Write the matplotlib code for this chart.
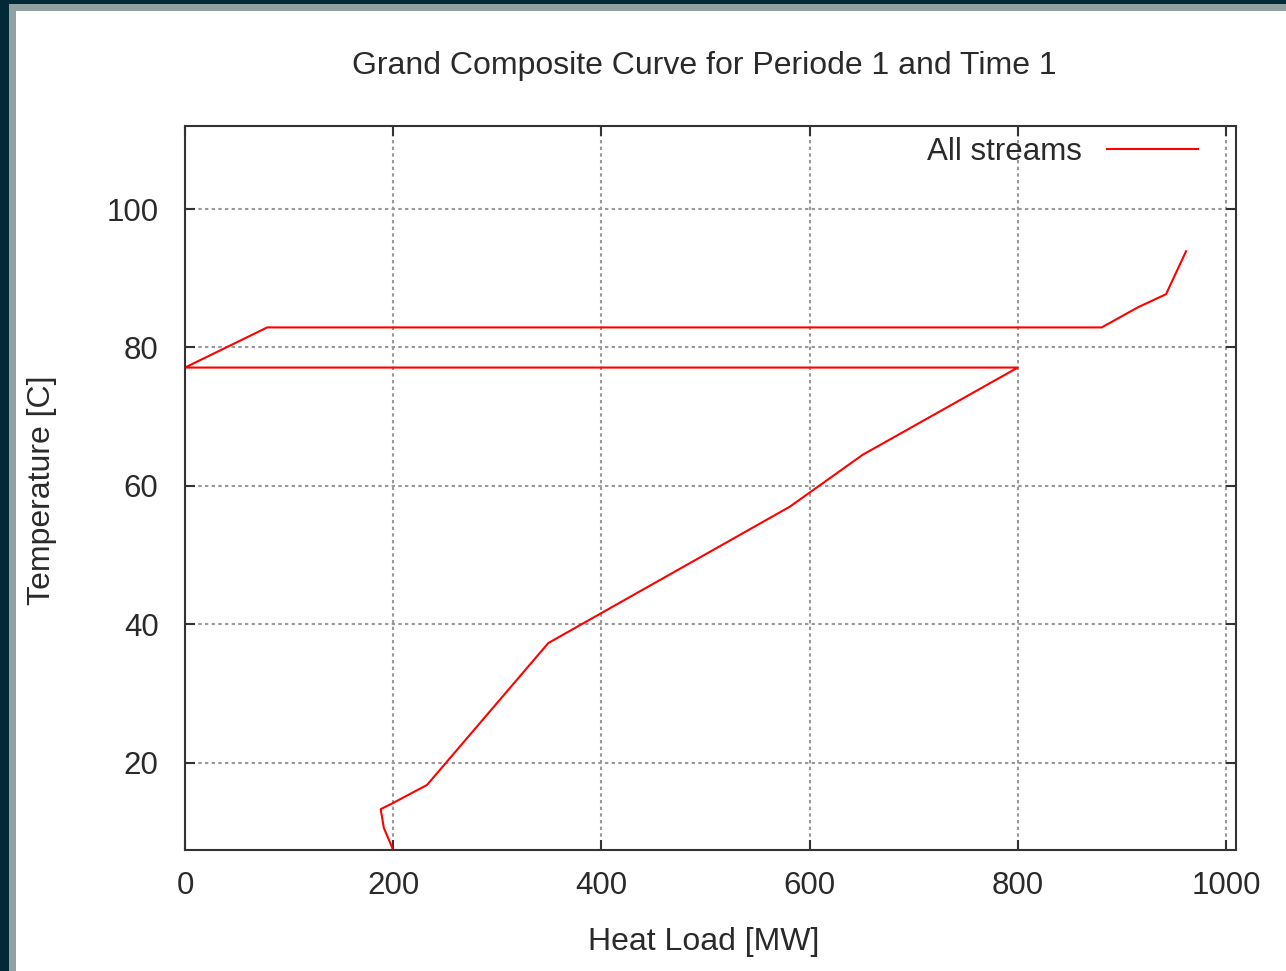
#!/usr/bin/env python3
"""
plot.py: grand composite curve, gnuplot-like look
"""

import matplotlib
matplotlib.use("Agg")
import matplotlib.pyplot as plt
from matplotlib.patches import Rectangle

# heat load [MW] and temperature [C] along the curve
heat_load = [200, 191, 188, 200, 232.5, 349, 581, 651, 800, 0, 79, 880.6, 915.3, 942.4, 961.6]
temperature = [7.4, 10.6, 13.3, 14.2, 16.8, 37.3, 57.0, 64.5, 77.1, 77.1, 82.9, 82.9, 85.8, 87.7, 93.9]

x_ticks = [0, 200, 400, 600, 800, 1000]
y_ticks = [20, 40, 60, 80, 100]

title = "Grand Composite Curve for Periode 1 and Time 1"
x_label = "Heat Load [MW]"
y_label = "Temperature [C]"
series_label = "All streams"


def main():
    W, H = 1286, 971
    plt.rcParams['font.family'] = ['Liberation Sans', 'DejaVu Sans']
    fig = plt.figure(figsize=(W / 100, H / 100), dpi=100)
    fig.patch.set_facecolor('white')

    # window frame on the left and top
    fig.patches.append(Rectangle((0, 0), 16 / W, 1, transform=fig.transFigure,
                                 facecolor='#8fa1a1', edgecolor='none', zorder=0))
    fig.patches.append(Rectangle((0, 1 - 11 / H), 1, 11 / H, transform=fig.transFigure,
                                 facecolor='#8fa1a1', edgecolor='none', zorder=0))
    fig.patches.append(Rectangle((0, 0), 9 / W, 1, transform=fig.transFigure,
                                 facecolor='#022a36', edgecolor='none', zorder=1))
    fig.patches.append(Rectangle((0, 1 - 4 / H), 1, 4 / H, transform=fig.transFigure,
                                 facecolor='#022a36', edgecolor='none', zorder=1))

    left, right, top, bottom = 185, 1236, 126, 850
    ax = fig.add_axes([left / W, 1 - bottom / H, (right - left) / W, (bottom - top) / H])

    ax.plot(heat_load, temperature, '-', color='#ff0000', lw=1.5, label=series_label)
    ax.set_xlim(0, 1009.6)
    ax.set_ylim(7.4, 112)
    ax.set_xticks(x_ticks)
    ax.set_yticks(y_ticks)

    ax.grid(True, color='#999999', lw=1.5, linestyle=(0, (1.6, 1.6)))
    ax.set_axisbelow(True)
    for s in ax.spines.values():
        s.set_color('#333333')
        s.set_linewidth(1.5)
    ax.tick_params(direction='in', length=7, width=1.5, color='#333333',
                   top=True, right=True, labelsize=22.5, labelcolor='#2a2a2a')
    ax.tick_params(axis='x', pad=15)
    ax.tick_params(axis='y', pad=19)

    leg = ax.legend(loc='upper right', bbox_to_anchor=(0.9638, 0.985), frameon=False,
                    markerfirst=False, fontsize=22.5, handlelength=2.9,
                    handletextpad=0.8, borderpad=0, borderaxespad=0)
    for t in leg.get_texts():
        t.set_color('#2a2a2a')

    fig.text(704 / W, 1 - 66 / H, title, ha='center', va='center', fontsize=23, color='#2a2a2a')
    fig.text(704 / W, 1 - 942 / H, x_label, ha='center', va='center', fontsize=23, color='#2a2a2a')
    fig.text(42 / W, 1 - 490 / H, y_label, ha='center', va='center', rotation=90,
             fontsize=23, color='#2a2a2a')

    fig.savefig("out.png", dpi=100)


if __name__ == "__main__":
    main()
